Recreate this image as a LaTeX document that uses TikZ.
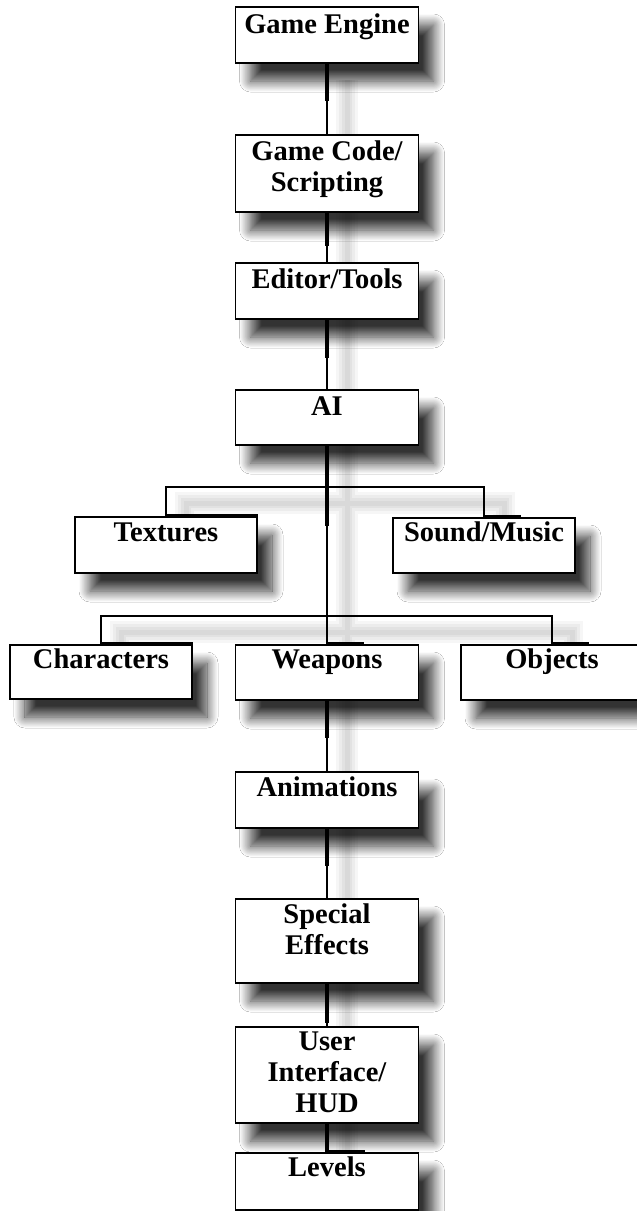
\documentclass[tikz,border=0pt]{standalone}
\usepackage{fontspec}
\setmainfont{Liberation Serif}
\usetikzlibrary{shadows.blur}
\pgfdeclarelayer{background}
\pgfsetlayers{background,main}
\begin{document}
\begin{tikzpicture}[x=1pt,y=-1pt,
  box/.style={draw=black, line width=1.8pt, fill=white, minimum width=183pt, inner sep=0pt,
    blur shadow={shadow xshift=15pt, shadow yshift=-18pt, shadow blur radius=11pt, shadow opacity=80, shadow blur steps=20}},
  sidebox/.style={box, minimum width=182pt},
  lbl/.style={anchor=base, inner sep=0pt, font=\fontsize{28.5}{31}\selectfont\bfseries},
  conn/.style={line width=1.7pt},
  thickseg/.style={line width=3.4pt},
  cshadow/.style={draw=black, transform canvas={xshift=20pt, yshift=-16pt}}
]
\useasboundingbox (0,0) rectangle (637,1211);

% boxes
\node[box, minimum height=56pt] (ge) at (327,35) {};
\node[box, minimum height=77pt] (gc) at (327,173.5) {};
\node[box, minimum height=56pt] (et) at (327,291) {};
\node[box, minimum height=55pt] (ai) at (327,417.5) {};
\node[sidebox, minimum height=56pt] (tex) at (166,545) {};
\node[sidebox, minimum height=55pt] (sm) at (484,545.5) {};
\node[sidebox, minimum height=54pt] (ch) at (101,672) {};
\node[box, minimum height=55pt] (we) at (327,672.5) {};
\node[sidebox, minimum height=55pt] (ob) at (552,672.5) {};
\node[box, minimum height=56pt] (an) at (327,800) {};
\node[box, minimum height=84pt] (se) at (327,941) {};
\node[box, minimum height=96pt] (ui) at (327,1075) {};
\node[box, minimum height=57pt] (le) at (327,1181.5) {};

% labels
\node[lbl] (ge-t) at ([yshift=-27pt]ge.north) {Game Engine};
\node[lbl] (gc-t) at ([yshift=-26pt]gc.north) {\begin{tabular}[t]{@{}c@{}}Game Code/\\Scripting\end{tabular}};
\node[lbl] (et-t) at ([yshift=-26pt]et.north) {Editor/Tools};
\node[lbl] (ai-t) at ([yshift=-26pt]ai.north) {AI};
\node[lbl] (tex-t) at ([yshift=-25pt]tex.north) {Textures};
\node[lbl] (sm-t) at ([yshift=-24pt]sm.north) {Sound/Music};
\node[lbl] (ch-t) at ([yshift=-24pt]ch.north) {Characters};
\node[lbl] (we-t) at ([yshift=-24pt]we.north) {Weapons};
\node[lbl] (ob-t) at ([yshift=-24pt]ob.north) {Objects};
\node[lbl] (an-t) at ([yshift=-25pt]an.north) {Animations};
\node[lbl] (se-t) at ([yshift=-25pt]se.north) {\begin{tabular}[t]{@{}c@{}}Special\\Effects\end{tabular}};
\node[lbl] (ui-t) at ([yshift=-24pt]ui.north) {\begin{tabular}[t]{@{}c@{}}User\\Interface/\\HUD\end{tabular}};
\node[lbl] (le-t) at ([yshift=-24pt]le.north) {Levels};

\coordinate (b1) at (327,487);
\coordinate (b2) at (327,616);

% page background and soft connector shadows
\begin{pgfonlayer}{background}
\fill[white] (0,0) rectangle (637,1211);
\foreach \w/\o in {22/0.035, 16/0.04, 10/0.04, 5/0.04} {
  \draw[cshadow, line width=\w pt, opacity=\o]
    (ge.south) -- (le.north)
    (tex.north) -- (tex.north |- b1) -- (sm.north |- b1) -- (sm.north)
    (ch.north) -- (ch.north |- b2) -- (ob.north |- b2) -- (ob.north);
}
\end{pgfonlayer}

% connectors
\draw[conn] (ge.south) -- (gc.north);
\draw[conn] (gc.south) -- (et.north);
\draw[conn] (et.south) -- (ai.north);
\draw[conn] (ai.south) -- (we.north);
\draw[conn] (tex.north) -- (tex.north |- b1) -- (sm.north |- b1) -- (sm.north);
\draw[conn] (ch.north) -- (ch.north |- b2) -- (ob.north |- b2) -- (ob.north);
\draw[conn] (we.south) -- (an.north);
\draw[conn] (an.south) -- (se.north);
\draw[conn] (se.south) -- (ui.north);
\draw[conn] (ui.south) -- (le.north);

% heavier stretches of the connectors
\draw[thickseg] (ge.south) -- ++(0,37);
\draw[thickseg] (gc.south) -- ++(0,33);
\draw[thickseg] (et.south) -- ++(0,38);
\draw[thickseg] (ai.south) -- ++(0,80);
\draw[thickseg] (we.south) -- ++(0,37);
\draw[thickseg] (an.south) -- ++(0,37);
\draw[thickseg] (se.south) -- ++(0,39);
\draw[thickseg] (ui.south) -- (le.north);
\draw[thickseg] (tex.north) -- (tex.north east);
\draw[thickseg] (ch.north) -- (ch.north east);
\draw[thickseg] (sm.north) -- ++(37,0);
\draw[thickseg] (we.north) -- ++(37,0);
\draw[thickseg] (ob.north) -- ++(37,0);
\draw[thickseg] (le.north) -- ++(38,0);
\end{tikzpicture}
\end{document}
